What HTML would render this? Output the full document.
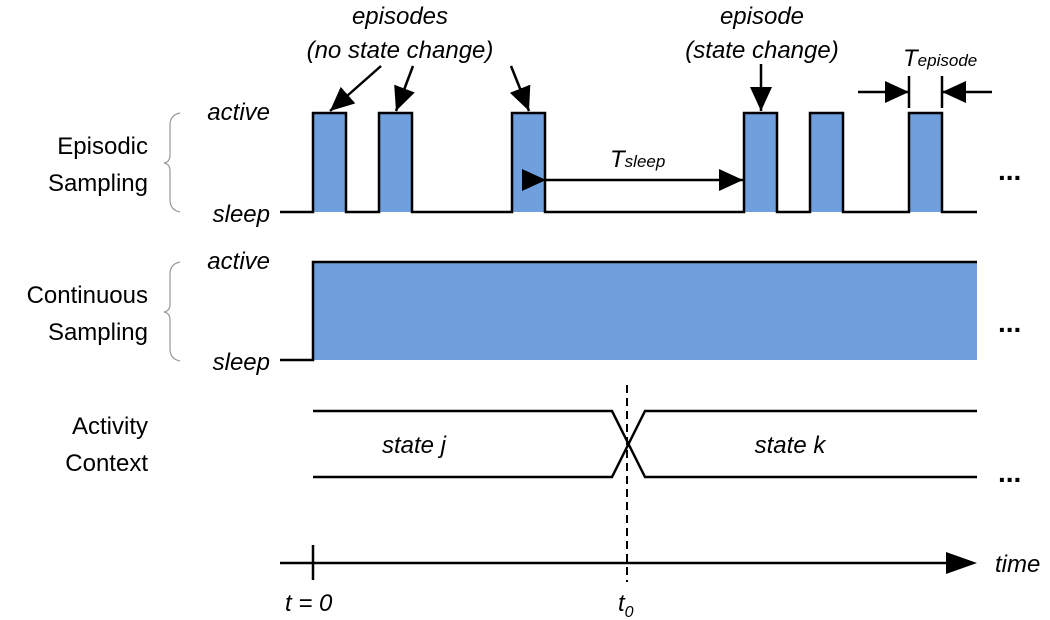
<!DOCTYPE html>
<html><head><meta charset="utf-8"><style>body{margin:0;background:#fff}svg{display:block}</style></head><body>
<svg width="1050" height="620" viewBox="0 0 1050 620" xmlns="http://www.w3.org/2000/svg" font-family="Liberation Sans, Arial, sans-serif">
<defs><marker id="a" markerWidth="10" markerHeight="10" refX="9" refY="5" orient="auto" markerUnits="userSpaceOnUse" viewBox="0 0 10 10"><path d="M0,0 L10,5 L0,10z" fill="#000"/></marker>
<marker id="b" markerWidth="24" markerHeight="22" refX="24" refY="11" orient="auto" markerUnits="userSpaceOnUse"><path d="M0,0 L24,11 L0,22z" fill="#000"/></marker></defs>
<g fill="#6f9fdc">
<rect x="313" y="113" width="33" height="99"/><rect x="379" y="113" width="33" height="99"/><rect x="512" y="113" width="33" height="99"/><rect x="744" y="113" width="33" height="99"/><rect x="810" y="113" width="33" height="99"/><rect x="909" y="113" width="33" height="99"/>
<rect x="313" y="262" width="664" height="98"/>
</g>
<g fill="none" stroke="#000" stroke-width="2.5">
<path d="M280,212 H313 V113 H346 V212 H379 V113 H412 V212 H512 V113 H545 V212 H744 V113 H777 V212 H810 V113 H843 V212 H909 V113 H942 V212 H977"/>
<path d="M280,360 H313 V262 H977"/>
<path d="M313,411 H612 L645,477 H977 M313,477 H612 L645,411 H977"/>
<path d="M280,563 H950"/><path d="M313,545 V580"/>
<path d="M909,76 V108 M942,76 V108"/>
<path d="M546,180 H743" marker-start="url(#b)" marker-end="url(#b)" />
<path d="M858,92 H909" marker-end="url(#b)"/><path d="M992,92 H942" marker-end="url(#b)"/>
<path d="M381,66 L330,111" marker-end="url(#b)"/><path d="M413,66 L396,111" marker-end="url(#b)"/>
<path d="M511,66 L529,111" marker-end="url(#b)"/><path d="M761,64 V111" marker-end="url(#b)"/>
</g>
<path d="M946,552 L977,563 L946,574z" fill="#000"/>
<path d="M627,385 V582" stroke="#000" stroke-width="2" stroke-dasharray="8,5"/>
<g fill="none" stroke="#999" stroke-width="1.2">
<path d="M180,113 Q170,115 170,125 V155 Q170,162 164,163 Q170,164 170,171 V200 Q170,210 180,212"/>
<path d="M180,262 Q170,264 170,274 V304 Q170,311 164,312 Q170,313 170,320 V349 Q170,359 180,361"/>
</g>
<g font-size="24" fill="#000">
<text x="148" y="154" text-anchor="end">Episodic</text><text x="148" y="191" text-anchor="end">Sampling</text>
<text x="148" y="303" text-anchor="end">Continuous</text><text x="148" y="340" text-anchor="end">Sampling</text>
<text x="148" y="434" text-anchor="end">Activity</text><text x="148" y="471" text-anchor="end">Context</text>
</g>
<g font-size="24" font-style="italic" fill="#000">
<text x="270" y="120" text-anchor="end">active</text><text x="270" y="222" text-anchor="end">sleep</text>
<text x="270" y="269" text-anchor="end">active</text><text x="270" y="370" text-anchor="end">sleep</text>
<text x="400" y="24" text-anchor="middle">episodes</text>
<text x="400" y="58" text-anchor="middle">(no state change)</text>
<text x="762" y="24" text-anchor="middle">episode</text>
<text x="762" y="58" text-anchor="middle">(state change)</text>
<text x="610" y="167">T<tspan font-size="17">sleep</tspan></text>
<text x="903" y="66">T<tspan font-size="17">episode</tspan></text>
<text x="414" y="453" text-anchor="middle">state j</text>
<text x="790" y="453" text-anchor="middle">state k</text>
<text x="995" y="572">time</text>
<text x="285" y="611">t = 0</text>
<text x="618" y="611">t<tspan font-size="16" dy="6">0</tspan></text>
</g>
<g fill="#000" font-size="28" font-weight="bold">
<text x="998" y="180">...</text><text x="998" y="332">...</text><text x="998" y="482">...</text>
</g>
</svg>
</body></html>
